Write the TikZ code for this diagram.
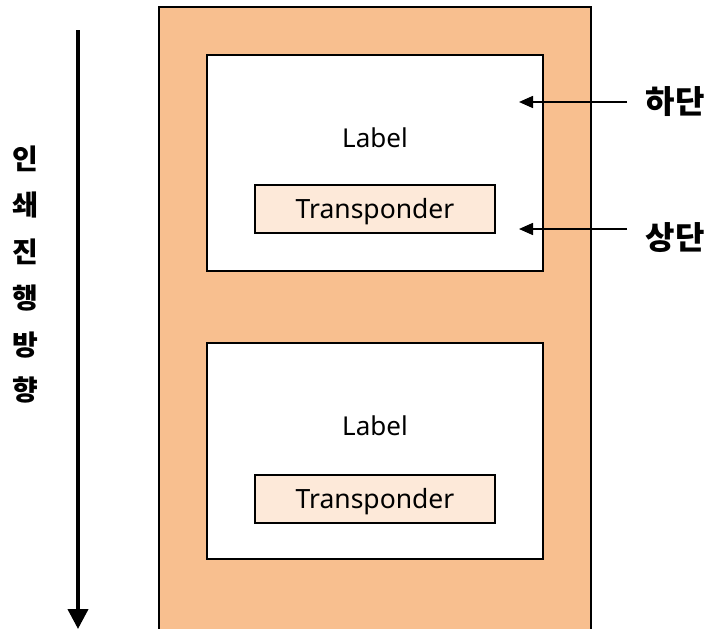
\documentclass[tikz,border=0pt]{standalone}
\usepackage{fontspec}
\setmainfont{Noto Sans}
\newfontfamily\krfont{Noto Sans CJK KR}
\usetikzlibrary{arrows.meta}
\definecolor{strip}{HTML}{F8BF8F}
\definecolor{tpfill}{HTML}{FDE9D9}
\tikzset{
  labelbox/.style={draw=black, line width=1.6pt, fill=white},
  tpbox/.style={draw=black, line width=1.6pt, fill=tpfill},
  tptext/.style={font=\fontsize{26.5}{30}\selectfont, inner sep=0pt},
  labeltext/.style={font=\fontsize{26}{30}\selectfont, inner sep=0pt},
  sidetext/.style={font=\krfont\fontsize{32}{36}\selectfont\bfseries, inner sep=0pt},
  vchar/.style={font=\krfont\fontsize{28}{32}\selectfont\bfseries, inner sep=0pt},
  ptr/.style={line width=1.6pt, -{Triangle[width=12pt,length=14pt]}},
  bigptr/.style={line width=4pt, -{Triangle[width=20pt,length=20pt]}}
}
\begin{document}
\begin{tikzpicture}[x=1pt, y=-1pt]
\useasboundingbox (0,0) rectangle (707,629);
% carrier strip (runs off the bottom)
\fill[strip] (159,7) rectangle (591,629);
\draw[line width=1.6pt] (159,629) -- (159,7) -- (591,7) -- (591,629);
% first label
\draw[labelbox] (207,55) rectangle (543,271);
\node[labeltext] (l1) at (375,138) {Label};
\draw[tpbox] (255,185) rectangle (495,233);
\node[tptext] (t1) at (375,212) {Transponder};
% second label
\draw[labelbox] (207,343) rectangle (543,559);
\node[labeltext] (l2) at (375,426) {Label};
\draw[tpbox] (255,475) rectangle (495,523);
\node[tptext] (t2) at (375,502) {Transponder};
% edge markers
\node[sidetext] (lo) at (675,102) {하단};
\node[sidetext] (up) at (675,238) {상단};
\coordinate (lostart) at (627,102);
\coordinate (loend) at (519,102);
\coordinate (upstart) at (627,229);
\coordinate (upend) at (519,229);
\draw[ptr] (lostart) -- (loend);
\draw[ptr] (upstart) -- (upend);
% print direction
\coordinate (dirtop) at (78,30);
\coordinate (dirbot) at (78,629);
\draw[bigptr] (dirtop) -- (dirbot);
\node[vchar] (c1) at (25,159) {인};
\node[vchar] (c2) at (25,205) {쇄};
\node[vchar] (c3) at (25,252) {진};
\node[vchar] (c4) at (25,298) {행};
\node[vchar] (c5) at (25,345) {방};
\node[vchar] (c6) at (25,390) {향};
\end{tikzpicture}
\end{document}
